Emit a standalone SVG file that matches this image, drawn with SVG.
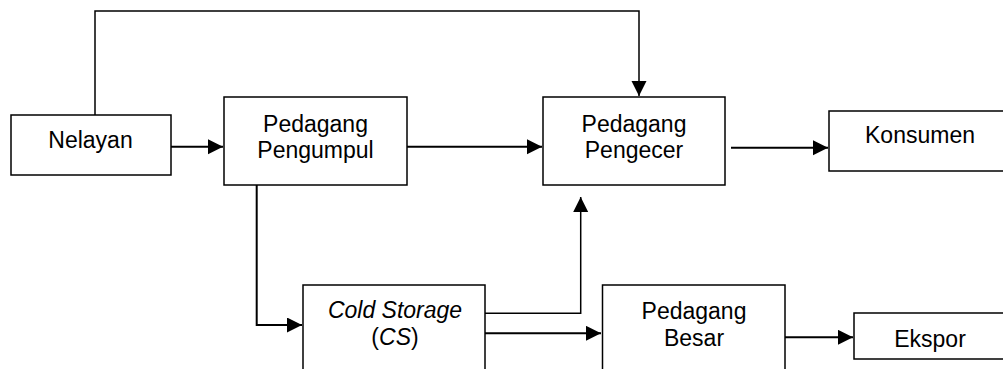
<svg xmlns="http://www.w3.org/2000/svg" width="1003" height="369" viewBox="0 0 1003 369">
<style>
.box{fill:#fff;stroke:#000;stroke-width:1.5}
.t{font-family:"Liberation Sans",Arial,sans-serif;font-size:23px;fill:#000;text-anchor:middle}
.c{fill:none;stroke:#000;stroke-width:2}
.thin{stroke-width:1.5}
</style>
<defs>
<marker id="ah" markerUnits="userSpaceOnUse" markerWidth="16" markerHeight="16" refX="15" refY="7.5" orient="auto">
<path d="M0,0 L15,7.5 L0,15 z" fill="#000"/>
</marker>
</defs>
<g id="connectors">
<path class="c thin" d="M95,115 V11 H639 V96" marker-end="url(#ah)"/>
<path class="c" d="M171,146.7 H223" marker-end="url(#ah)"/>
<path class="c" d="M407,146.7 H542" marker-end="url(#ah)"/>
<path class="c" d="M731,147.7 H828" marker-end="url(#ah)"/>
<path class="c" d="M256.7,185 V325 H302" marker-end="url(#ah)"/>
<path class="c thin" d="M485,313.3 H580.7 V197" marker-end="url(#ah)"/>
<path class="c" d="M483,333.3 H601" marker-end="url(#ah)"/>
<path class="c" d="M785,337.3 H853" marker-end="url(#ah)"/>
</g>
<g id="nelayan">
<rect class="box" x="11" y="115" width="160" height="60"/>
<text class="t" x="90.5" y="148">Nelayan</text>
</g>
<g id="pengumpul">
<rect class="box" x="224" y="97" width="183" height="88"/>
<text class="t" x="315.5" y="132">Pedagang</text>
<text class="t" x="315.5" y="158">Pengumpul</text>
</g>
<g id="pengecer">
<rect class="box" x="543" y="97" width="182" height="88"/>
<text class="t" x="634" y="132">Pedagang</text>
<text class="t" x="634" y="158">Pengecer</text>
</g>
<g id="konsumen">
<rect class="box" x="829" y="111" width="182" height="60"/>
<text class="t" x="920" y="143">Konsumen</text>
</g>
<g id="coldstorage">
<rect class="box" x="303" y="285" width="182" height="92"/>
<text class="t" x="395" y="318" font-style="italic">Cold Storage</text>
<text class="t" x="395" y="345">(<tspan font-style="italic">CS</tspan>)</text>
</g>
<g id="besar">
<rect class="box" x="602.5" y="285" width="182.5" height="92"/>
<text class="t" x="694" y="319">Pedagang</text>
<text class="t" x="694" y="346">Besar</text>
</g>
<g id="ekspor">
<rect class="box" x="854" y="313" width="182" height="46"/>
<text class="t" x="930" y="347">Ekspor</text>
</g>
</svg>
